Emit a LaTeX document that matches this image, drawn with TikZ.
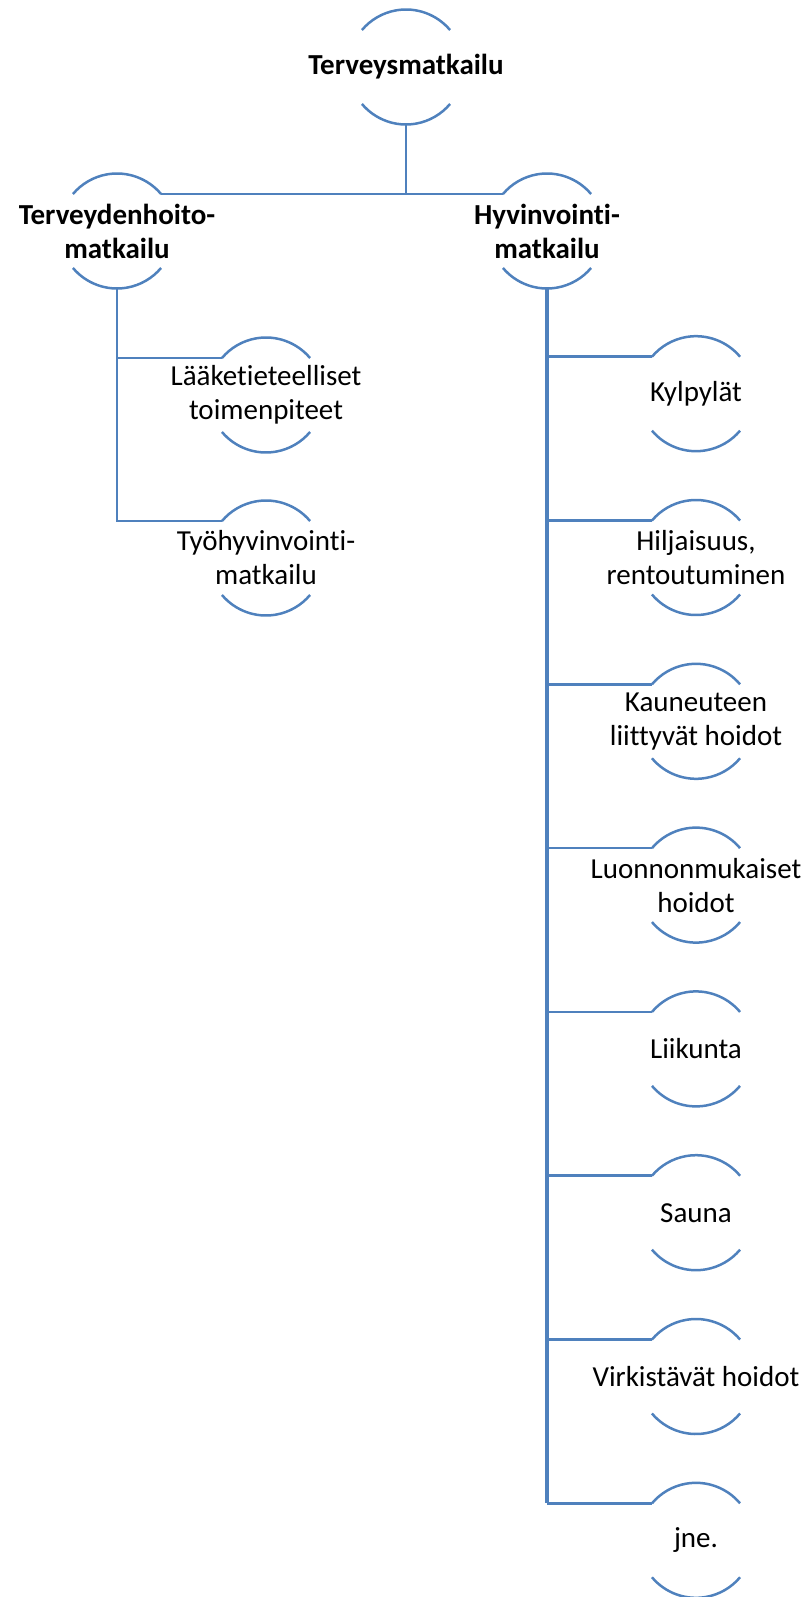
\documentclass[tikz,border=0pt]{standalone}
\usepackage{fontspec}
\setmainfont{Carlito}[RawFeature={-liga;-clig;-calt;-dlig}]
\definecolor{lineblue}{HTML}{4F81BD}
\tikzset{
  ring/.style={circle, minimum size=115pt, inner sep=0pt, outer sep=0pt},
  label/.style={inner sep=0pt, align=center, font=\fontsize{29}{34}\selectfont},
  boldlabel/.style={label, font=\fontsize{29}{34}\selectfont\bfseries},
  arcline/.style={draw=lineblue, line width=2.5pt},
  conn/.style={draw=lineblue, line width=2.7pt},
  trunk/.style={draw=lineblue, line width=3.6pt}
}
\newcommand{\arcs}[1]{%
  \draw[arcline] (#1.40) arc[start angle=40, end angle=140, radius=57.5];
  \draw[arcline] (#1.220) arc[start angle=220, end angle=320, radius=57.5];
}
\newcommand{\bubble}[4]{%
  \node[ring] (#1) at (#2) {};
  \node[#3] (#1-t) at (#1.center) {#4};
}
\begin{document}
\begin{tikzpicture}[x=1pt,y=1pt]
\useasboundingbox (0,0) rectangle (810,-1597);
\bubble{top}{406,-67}{boldlabel}{Terveysmatkailu}
\bubble{hoito}{117,-231}{boldlabel}{Terveydenhoito-\\matkailu}
\bubble{hyvin}{547,-231}{boldlabel}{Hyvinvointi-\\matkailu}
\bubble{laak}{266,-395}{label}{Lääketieteelliset\\toimenpiteet}
\bubble{tyo}{266,-558}{label}{Työhyvinvointi-\\matkailu}
\bubble{kyl}{696,-393.7}{label}{Kylpylät}
\bubble{hil}{696,-557.5}{label}{Hiljaisuus,\\rentoutuminen}
\bubble{kau}{696,-721.3}{label}{Kauneuteen\\liittyvät hoidot}
\bubble{luo}{696,-885.1}{label}{Luonnonmukaiset\\hoidot}
\bubble{lii}{696,-1048.9}{label}{Liikunta}
\bubble{sau}{696,-1212.7}{label}{Sauna}
\bubble{vir}{696,-1376.5}{label}{Virkistävät hoidot}
\bubble{jne}{696,-1540.3}{label}{jne.}
\foreach \n in {top,hoito,hyvin,laak,tyo,kyl,hil,kau,luo,lii,sau,vir,jne}{\arcs{\n}}
\draw[conn] (top.south) -- (top.south |- hoito.40);
\draw[conn] (hoito.40) -- (hyvin.140);
\draw[conn] (hoito.south) -- (hoito.south |- tyo.140) -- (tyo.140);
\draw[conn] (hoito.south |- laak.140) -- (laak.140);
\foreach \n in {kyl,hil,kau,luo,lii,sau,vir}{
  \draw[conn] (hyvin.south |- \n.140) -- (\n.140);
}
\draw[conn] (hyvin.south |- jne.140) -- (jne.140);
\draw[trunk] (hyvin.south) -- (hyvin.south |- jne.140);
\end{tikzpicture}
\end{document}
